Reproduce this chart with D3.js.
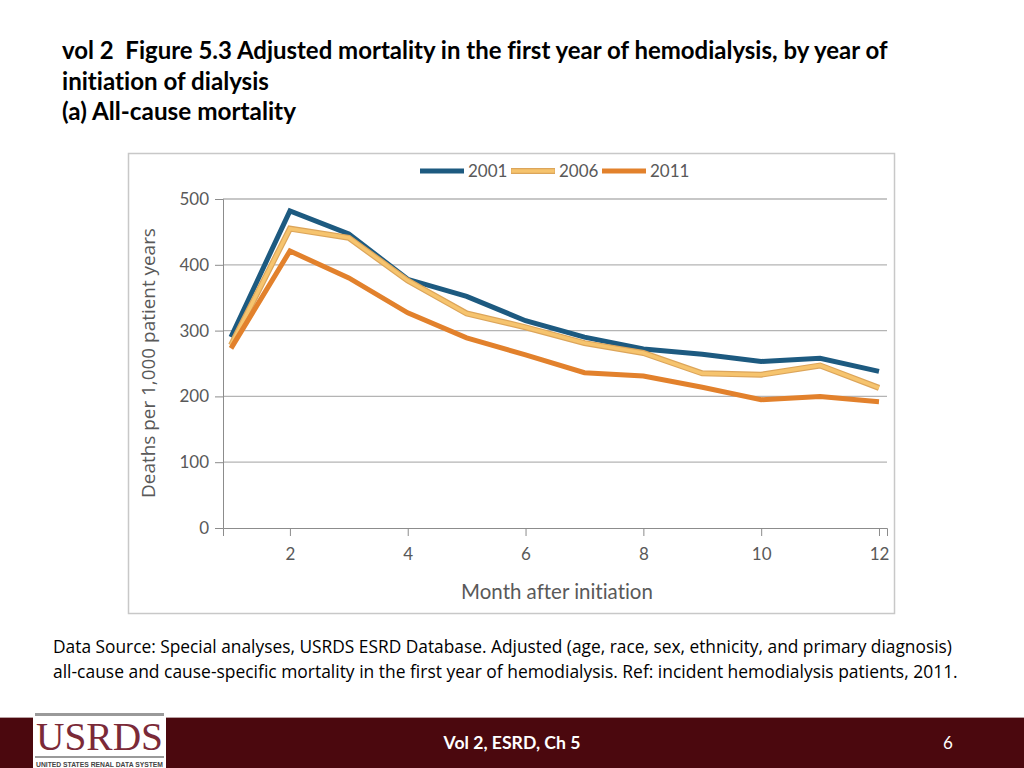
<!DOCTYPE html>
<html><head><meta charset="utf-8">
<script src="https://cdn.jsdelivr.net/npm/d3@7"></script>
<style>
html,body{margin:0;padding:0;background:#fff;}
svg{display:block;}
text{font-variant-ligatures:none;font-feature-settings:"liga" 0;white-space:pre;}
</style></head>
<body>
<svg id="c" width="1024" height="768"></svg>
<script>
const months = [1,2,3,4,5,6,7,8,9,10,11,12];
const seriesNames = ["2001","2006","2011"];
const v2001 = [290,482,447,378,352,315,290,272,264,253,258,238];
const v2006 = [278,455,441,376,326,305,281,266,235,233,247,213];
const v2011 = [273,421,380,327,289,263,236,231,214,195,200,192];
const yTicks = [0,100,200,300,400,500];
const xTicks = [2,4,6,8,10,12];
const colors = {"2001":"#1d5a80","2006":"#f6c46e","2011":"#e2812c"};

const svg = d3.select("#c");
const font = "Lato, 'Open Sans', sans-serif";

function fit(sel, w){
  const n = sel.node(); const fs = parseFloat(sel.attr("font-size"));
  const cw = n.getComputedTextLength();
  if (cw>0) sel.attr("font-size", (fs*w/cw).toFixed(2));
  return sel;
}

// Title
const tl = [
  ["vol 2  Figure 5.3 Adjusted mortality in the first year of hemodialysis, by year of", 59, 826],
  ["initiation of dialysis", 90, 207],
  ["(a) All-cause mortality", 120, 234]
];
tl.forEach(t=>{
  const s = svg.append("text").attr("x",62).attr("y",t[1]).attr("font-family",font)
    .attr("xml:space","preserve")
    .attr("font-weight","bold").attr("font-size",21).attr("fill","#000").text(t[0]);
  fit(s,t[2]);
});

// Chart frame
svg.append("rect").attr("x",128.5).attr("y",153.5).attr("width",766).attr("height",460)
  .attr("fill","#fff").attr("stroke","#c8c8c8").attr("stroke-width",1.5);

const x = d3.scaleLinear().domain([0.864,12.136]).range([223,887]);
const y = d3.scaleLinear().domain([0,500]).range([528,199]);

// gridlines
svg.append("g").selectAll("line").data(yTicks.filter(d=>d>0)).join("line")
  .attr("x1",223).attr("x2",887).attr("y1",d=>y(d)).attr("y2",d=>y(d))
  .attr("stroke","#b4b4b4").attr("stroke-width",1.3);

// y axis
const ya = svg.append("g").attr("transform","translate(223,0)")
  .call(d3.axisLeft(y).tickValues(yTicks).tickSize(8).tickPadding(6));
ya.select(".domain").attr("stroke","#8c8c8c");
ya.selectAll(".tick line").attr("stroke","#8c8c8c");
ya.selectAll("text").attr("font-family",font).attr("font-size",17).attr("fill","#595959");

// x axis
const xa = svg.append("g").attr("transform","translate(0,528)")
  .call(d3.axisBottom(x).tickValues(xTicks).tickSizeOuter(0).tickSize(8).tickPadding(12));
xa.select(".domain").attr("stroke","#8c8c8c");
xa.selectAll(".tick line").attr("stroke","#8c8c8c");
xa.selectAll("text").attr("font-family",font).attr("font-size",17).attr("fill","#595959");

// axis titles
const yt = svg.append("text").attr("transform","translate(155,363) rotate(-90)")
  .attr("text-anchor","middle").attr("font-family","'Open Sans', sans-serif").attr("font-size",18)
  .attr("fill","#595959").text("Deaths per 1,000 patient years");
fit(yt,270);
const xt = svg.append("text").attr("x",557).attr("y",599).attr("text-anchor","middle")
  .attr("font-family",font).attr("font-size",18).attr("fill","#595959").text("Month after initiation");
fit(xt,192);

// lines
const data = [["2001",v2001],["2006",v2006],["2011",v2011]];
const line = d3.line().x((d,i)=>x(months[i])).y(d=>y(d));
const lg = svg.append("g");
data.forEach(([name,vals])=>{
  if(name==="2006"){
    lg.append("path").attr("d",line(vals)).attr("fill","none").attr("stroke","#dca55a")
      .attr("stroke-width",6).attr("stroke-linejoin","miter");
    lg.append("path").attr("d",line(vals)).attr("fill","none").attr("stroke",colors[name])
      .attr("stroke-width",3.6).attr("stroke-linejoin","miter");
  } else {
    lg.append("path").attr("d",line(vals)).attr("fill","none").attr("stroke",colors[name])
      .attr("stroke-width",5).attr("stroke-linejoin","miter");
  }
});

// legend
const legX = [420,511,602];
seriesNames.forEach((n,i)=>{
  const g = svg.append("g").attr("transform",`translate(${legX[i]},171)`);
  if(n==="2006"){
    g.append("line").attr("x1",0).attr("x2",44).attr("stroke","#dca55a").attr("stroke-width",6);
    g.append("line").attr("x1",0.5).attr("x2",43.5).attr("stroke",colors[n]).attr("stroke-width",3.6);
  } else {
    g.append("line").attr("x1",0).attr("x2",44).attr("stroke",colors[n]).attr("stroke-width",5);
  }
  g.append("text").attr("x",48).attr("y",6).attr("font-family",font).attr("font-size",17)
    .attr("fill","#595959").text(n);
});

// source text
const s1 = svg.append("text").attr("x",53).attr("y",653).attr("font-family","'Open Sans', sans-serif")
  .attr("font-size",16).attr("fill","#000")
  .text("Data Source: Special analyses, USRDS ESRD Database. Adjusted (age, race, sex, ethnicity, and primary diagnosis)");
fit(s1,899);
const s2 = svg.append("text").attr("x",53).attr("y",678).attr("font-family","'Open Sans', sans-serif")
  .attr("font-size",16).attr("fill","#000")
  .text("all-cause and cause-specific mortality in the first year of hemodialysis. Ref: incident hemodialysis patients, 2011.");
fit(s2,905);

// footer
svg.append("rect").attr("x",0).attr("y",718).attr("width",1024).attr("height",50).attr("fill","#4b080e");
svg.append("line").attr("x1",0).attr("x2",1024).attr("y1",717.5).attr("y2",717.5).attr("stroke","#b9a0a2").attr("stroke-width",1);
const logo = svg.append("g");
logo.append("rect").attr("x",33).attr("y",712).attr("width",133).attr("height",56).attr("fill","#fff");
logo.append("rect").attr("x",35).attr("y",713).attr("width",129).attr("height",3).attr("fill","#9a9a9a");
logo.append("text").attr("x",36).attr("y",750)
  .attr("font-family","'Liberation Serif', 'DejaVu Serif', serif").attr("font-size",40)
  .attr("textLength",127).attr("lengthAdjust","spacingAndGlyphs")
  .attr("fill","#7b2a38").text("USRDS");
logo.append("rect").attr("x",35).attr("y",756).attr("width",129).attr("height",2).attr("fill","#9a9a9a");
logo.append("text").attr("x",36).attr("y",767)
  .attr("font-family","'Liberation Sans', Arial, sans-serif").attr("font-weight","bold").attr("font-size",6.5)
  .attr("textLength",127).attr("lengthAdjust","spacingAndGlyphs")
  .attr("fill","#444").text("UNITED STATES RENAL DATA SYSTEM");

const ft = svg.append("text").attr("x",512).attr("y",749).attr("text-anchor","middle")
  .attr("font-family",font).attr("font-weight","bold").attr("font-size",16).attr("fill","#fff")
  .text("Vol 2, ESRD, Ch 5");
fit(ft,137);
svg.append("text").attr("x",948).attr("y",749).attr("text-anchor","middle")
  .attr("font-family",font).attr("font-size",17).attr("fill","#fff").text("6");
</script>
</body></html>
